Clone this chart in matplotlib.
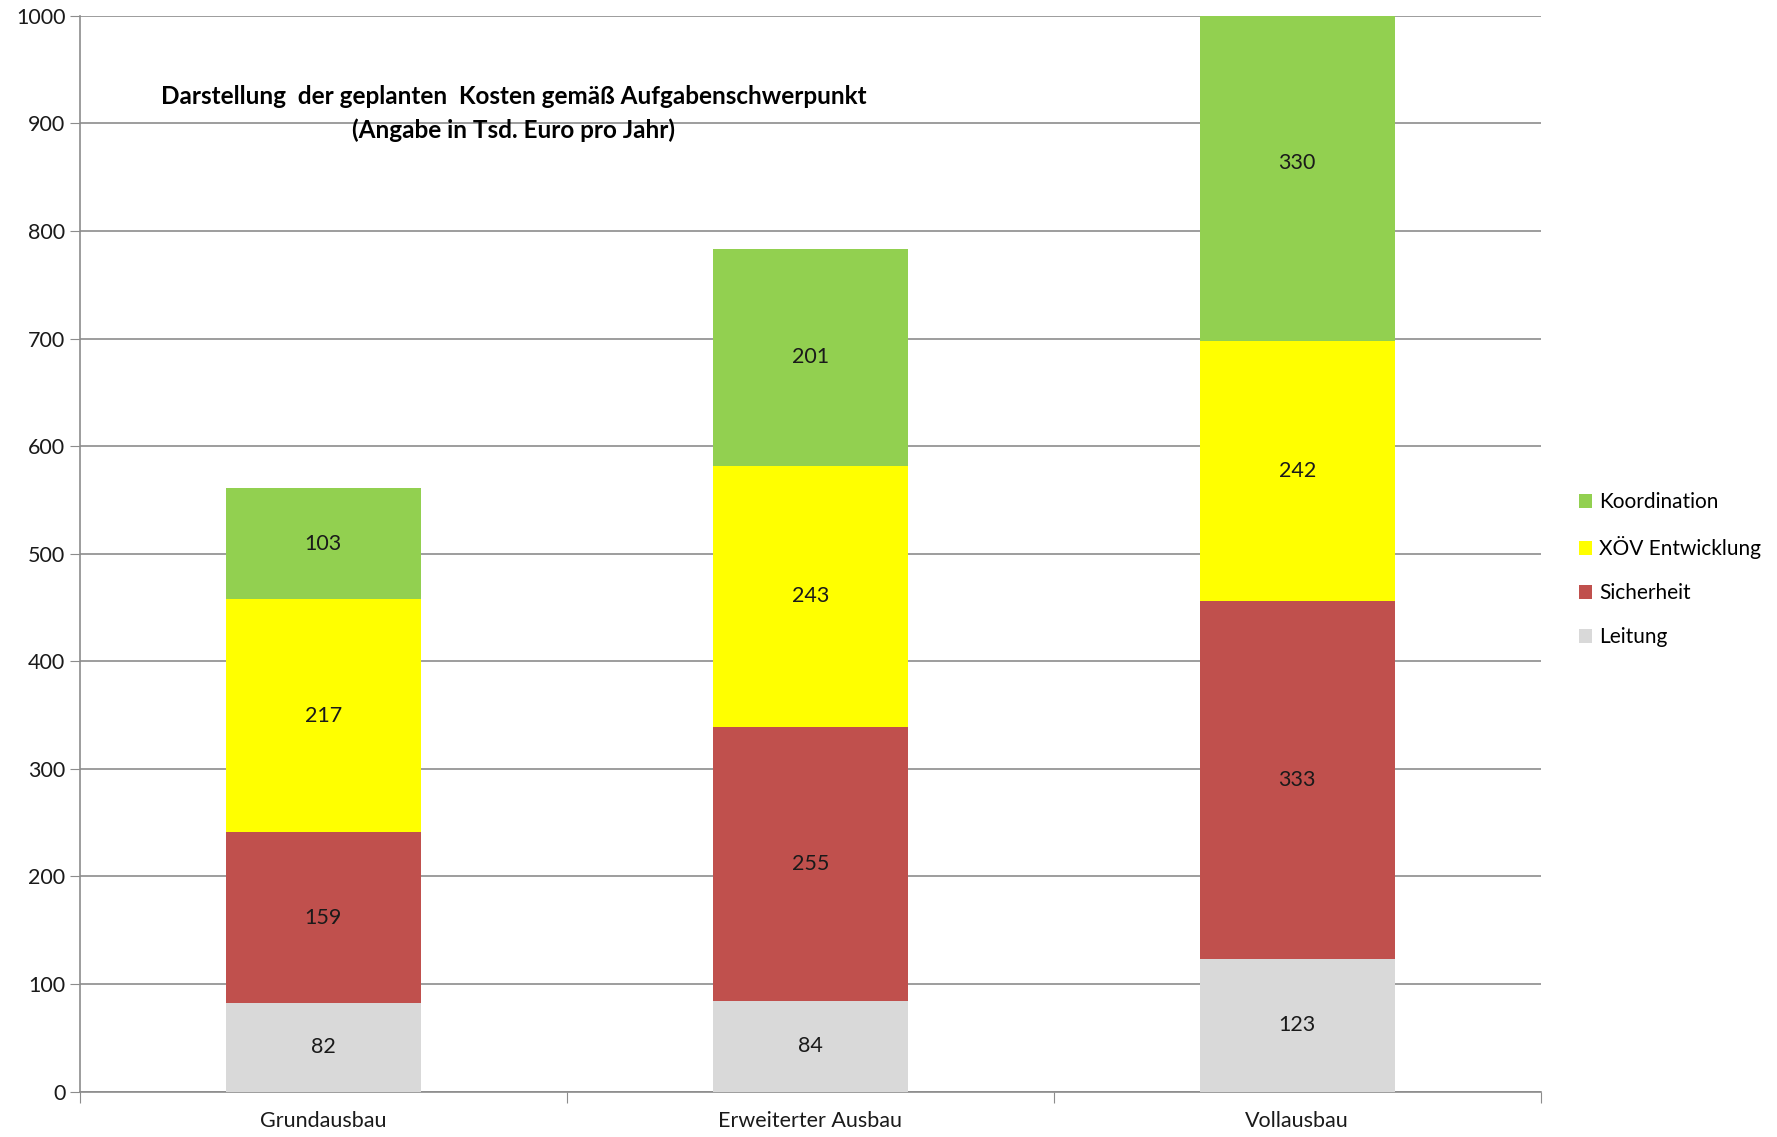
import matplotlib
matplotlib.use("Agg")
import matplotlib.pyplot as plt
import numpy as np

categories = ["Grundausbau", "Erweiterter Ausbau", "Vollausbau"]
series_names = ["Leitung", "Sicherheit", "XÖV Entwicklung", "Koordination"]
leitung = [82, 84, 123]
sicherheit = [159, 255, 333]
xoev = [217, 243, 242]
koordination = [103, 201, 330]
colors = ["#D9D9D9", "#C0504D", "#FFFF00", "#92D050"]

plt.rcParams["font.family"] = ["Lato", "DejaVu Sans"]

fig = plt.figure(figsize=(17.77, 11.37), dpi=100)
ax = fig.add_axes([0.045, 0.04, 0.822, 0.946])

x = np.arange(len(categories))
bottom = np.zeros(len(categories))
handles = []
for name, vals, col in zip(series_names, [leitung, sicherheit, xoev, koordination], colors):
    vals = np.array(vals)
    bars = ax.bar(x, vals, width=0.4, bottom=bottom, color=col, label=name, zorder=3)
    # label at the middle of the full segment (Excel style, even when clipped)
    for xi, b, v in zip(x, bottom, vals):
        ax.text(xi, b + v / 2, str(v), ha="center", va="center",
                fontsize=15.5, color="#1a1a1a", zorder=4)
    bottom += vals
    handles.append(bars)

ax.set_xlim(-0.5, 2.5)
ax.set_ylim(0, 1000)
ax.set_yticks(np.arange(0, 1001, 100))
ax.grid(True, axis="y", color="#8c8c8c", linewidth=1.2, zorder=0)

ax.set_xticks([-0.5, 0.5, 1.5, 2.5])
ax.set_xticklabels([])
ax.set_xticks(x, minor=True)
ax.set_xticklabels(categories, minor=True, fontsize=15.5, color="#1a1a1a")
ax.tick_params(axis="x", which="minor", length=0, pad=14)
ax.tick_params(axis="x", which="major", length=8, color="#8c8c8c")
ax.tick_params(axis="y", length=7, color="#8c8c8c", labelsize=15.5, labelcolor="#1a1a1a")

for side in ["top", "right"]:
    ax.spines[side].set_visible(False)
for side in ["left", "bottom"]:
    ax.spines[side].set_color("#8c8c8c")
    ax.spines[side].set_linewidth(1.2)

ax.text(0.297, 0.925, "Darstellung  der geplanten  Kosten gemäß Aufgabenschwerpunkt",
        transform=ax.transAxes, ha="center", va="center", fontsize=17.5, fontweight="bold")
ax.text(0.297, 0.894, "(Angabe in Tsd. Euro pro Jahr)",
        transform=ax.transAxes, ha="center", va="center", fontsize=17.5, fontweight="bold")

ax.legend(handles[::-1], series_names[::-1], loc="center left", bbox_to_anchor=(1.026, 0.485),
          frameon=False, fontsize=15, handlelength=0.65, handleheight=0.65,
          handletextpad=0.35, labelspacing=1.15, borderaxespad=0, borderpad=0)

fig.savefig("out.png", dpi=100)
